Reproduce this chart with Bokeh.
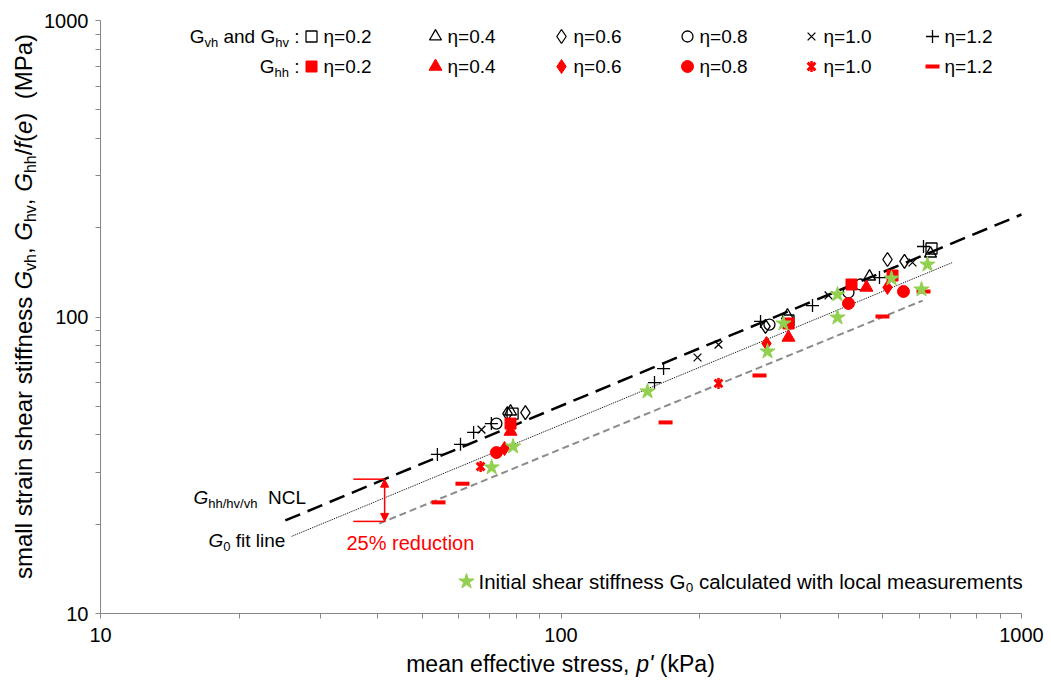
import math
from bokeh.plotting import figure
from bokeh.models import Range1d, FixedTicker, PrintfTickFormatter, Label, Arrow, NormalHead
from bokeh.embed import file_html
from bokeh.resources import INLINE

# ---------------- data ----------------
x_ticks = [10, 100, 1000]
y_ticks = [10, 100, 1000]
minor_ticks = [20, 30, 40, 50, 60, 70, 80, 90, 200, 300, 400, 500, 600, 700, 800, 900]
eta_labels = ["η=0.2", "η=0.4", "η=0.6", "η=0.8", "η=1.0", "η=1.2"]

# G_vh and G_hv (open black markers)
vh02_p = [78.5, 311.9, 637.7]
vh02_G = [47.2, 97.3, 170.2]
vh04_p = [77.7, 310.3, 467.7, 634.5]
vh04_G = [48.0, 101.2, 136.9, 163.7]
vh06_p = [76.5, 83.7, 278.0, 511.7, 557.0]
vh06_G = [47.2, 47.6, 92.9, 156.3, 153.9]
vh08_p = [72.4, 283.6, 421.0, 447.1]
vh08_G = [43.7, 94.3, 121.0, 128.7]
vh10_p = [67.2, 197.9, 219.8, 381.0, 579.8]
vh10_G = [41.7, 73.0, 80.7, 118.2, 152.7]
vh12_p = [53.9, 60.5, 64.6, 70.6, 159.6, 167.0, 271.2, 351.7, 491.6, 612.6]
vh12_G = [34.4, 37.2, 40.8, 43.7, 60.1, 67.0, 96.6, 109.3, 135.8, 172.9]

# G_hh (red markers)
hh02_p = [77.7, 311.9, 427.4, 524.7]
hh02_G = [43.7, 95.1, 128.7, 138.0]
hh04_p = [77.7, 311.9, 460.7]
hh04_G = [41.1, 85.3, 125.8]
hh06_p = [75.4, 279.4, 511.7]
hh06_G = [36.0, 81.4, 125.8]
hh08_p = [72.4, 421.0, 554.3]
hh08_G = [34.9, 111.1, 121.9]
hh10_p = [66.9, 219.8]
hh10_G = [31.3, 59.7]
hh12_p = [54.2, 61.1, 168.7, 269.8, 499.0, 612.6]
hh12_G = [23.7, 27.4, 44.1, 63.5, 100.4, 121.9]

# initial shear stiffness G0 (local measurements)
g0_p = [70.7, 78.7, 154.1, 280.8, 304.2, 398.5, 398.5, 522.1, 606.5, 625.0]
g0_G = [31.1, 36.6, 56.1, 76.5, 95.1, 119.1, 99.6, 134.8, 123.8, 150.3]

# lines
ncl_p = [25.2, 1000.0]
ncl_G = [20.6, 221.7]
fit_p = [26.0, 708.0]
fit_G = [18.2, 152.7]
red_p = [40.3, 610.0]
red_G = [20.1, 113.6]
arrow_p = 41.4
bracket_p = [35.4, 41.4]

# ---------------- layout ----------------
W, H = 1045, 678
FL, FR, FT, FB = 100, 1021, 20, 613   # where p=10..1000 / G=1000..10 sit on the canvas
FONT = "Liberation Sans"

CW = {' ': 278, '%': 889, "'": 191, '(': 333, ')': 333, ',': 278, '.': 278, '/': 278,
      ':': 278, '=': 584, 'C': 722, 'G': 778, 'I': 278, 'L': 556, 'M': 833, 'N': 722,
      'P': 667, 'a': 556, 'c': 500, 'd': 556, 'e': 556, 'f': 278, 'h': 556, 'i': 222,
      'k': 500, 'l': 222, 'm': 833, 'n': 556, 'o': 556, 'p': 556, 'r': 333, 's': 500,
      't': 278, 'u': 556, 'v': 500, 'w': 722, 'η': 556}


def tw(s, size):
    return sum(CW.get(ch, 556) for ch in s) / 1000.0 * size


def to_data(cx, cy):
    return (10 ** (1 + 2.0 * (cx - FL) / (FR - FL)),
            10 ** (3 - 2.0 * (cy - FT) / (FB - FT)))


def loglin(px, py, x):
    lx = [math.log10(v) for v in px]
    ly = [math.log10(v) for v in py]
    t = (math.log10(x) - lx[0]) / (lx[1] - lx[0])
    return 10 ** (ly[0] + t * (ly[1] - ly[0]))


x_lo, _ = to_data(0, 0)
x_hi, _ = to_data(W, 0)
_, y_hi = to_data(0, 0)
_, y_lo = to_data(0, H)

p = figure(width=W, height=H, x_axis_type="log", y_axis_type="log",
           x_range=Range1d(x_lo, x_hi), y_range=Range1d(y_lo, y_hi),
           output_backend="svg", toolbar_location=None,
           min_border_left=0, min_border_right=0,
           min_border_top=0, min_border_bottom=0)
p.outline_line_color = None
p.grid.visible = False
p.background_fill_color = "white"
p.border_fill_color = "white"

for ax, ticks in ((p.xaxis[0], x_ticks), (p.yaxis[0], y_ticks)):
    ax.ticker = FixedTicker(ticks=ticks, minor_ticks=minor_ticks)
    ax.formatter = PrintfTickFormatter(format="%d")
    ax.fixed_location = 10
    ax.bounds = (10, 1000)
    ax.axis_line_color = "#868686"
    ax.major_tick_line_color = "#868686"
    ax.minor_tick_line_color = "#868686"
    ax.major_tick_out = 5
    ax.major_tick_in = 0
    ax.minor_tick_out = 5
    ax.minor_tick_in = 0
    ax.major_label_text_font = FONT
    ax.major_label_text_font_size = "20px"
    ax.major_label_text_color = "black"
p.xaxis.major_label_standoff = 9
p.yaxis.major_label_standoff = 7

# lines
p.line(ncl_p, ncl_G, line_color="black", line_width=2.5, line_dash="16 8")
p.line(fit_p, fit_G, line_color="black", line_width=1, line_dash="1 1")
p.line(red_p, red_G, line_color="#8c8c8c", line_width=2, line_dash="7 4")

# reduction arrow
g_hi = loglin(ncl_p, ncl_G, arrow_p)
g_lo = loglin(red_p, red_G, arrow_p)
p.line(bracket_p, [g_hi, g_hi], line_color="red", line_width=1.5)
p.line(bracket_p, [g_lo, g_lo], line_color="red", line_width=1.5)
p.add_layout(Arrow(start=NormalHead(size=8, fill_color="red", line_color="red"),
                   end=NormalHead(size=8, fill_color="red", line_color="red"),
                   x_start=arrow_p, y_start=g_lo, x_end=arrow_p, y_end=g_hi,
                   line_color="red", line_width=1.5))

BLK = dict(line_color="black", fill_color=None, line_width=1.3)
RED = dict(line_color="red", fill_color="red")
black_specs = [("square", 11, vh02_p, vh02_G), ("triangle", 12, vh04_p, vh04_G),
               ("diamond", 14, vh06_p, vh06_G), ("circle", 11, vh08_p, vh08_G),
               ("x", 11, vh10_p, vh10_G), ("cross", 13, vh12_p, vh12_G)]
for m, s, xs, ys in black_specs:
    p.scatter(xs, ys, marker=m, size=s, **BLK)


def red_marker(xs, ys, kind):
    if kind == 0:
        p.scatter(xs, ys, marker="square", size=11, **RED)
    elif kind == 1:
        p.scatter(xs, ys, marker="triangle", size=13, **RED)
    elif kind == 2:
        p.scatter(xs, ys, marker="diamond", size=14, **RED)
    elif kind == 3:
        p.scatter(xs, ys, marker="circle", size=12, **RED)
    elif kind == 4:
        p.scatter(xs, ys, marker="x", size=11, line_color="red", line_width=3)
        p.scatter(xs, ys, marker="dash", angle=math.pi / 2, size=11, line_color="red", line_width=2.5)
    else:
        p.scatter(xs, ys, marker="dash", size=14, line_color="red", line_width=4)


for k, (xs, ys) in enumerate([(hh02_p, hh02_G), (hh04_p, hh04_G), (hh06_p, hh06_G),
                              (hh08_p, hh08_G), (hh10_p, hh10_G), (hh12_p, hh12_G)]):
    red_marker(xs, ys, k)

p.scatter(g0_p, g0_G, marker="star", size=16, line_color="#92D050", fill_color="#92D050")


# ---------------- rich text helper (anchor = vertical middle of the main text) ----------------
def rich(pieces, x0, y0, color="black", angle=0.0, align="left"):
    total = sum(tw(t, sz) for t, sz, st, rise in pieces)
    if angle == 0:
        if align == "right":
            x0 -= total
        elif align == "center":
            x0 -= total / 2.0
    else:
        if align == "center":
            y0 += total / 2.0
    adv = 0.0
    for t, sz, st, rise in pieces:
        lead = tw(t[:len(t) - len(t.lstrip())], sz)
        txt = t.strip()
        if txt:
            a = adv + lead
            if angle == 0:
                xo, yo = x0 + a - FL, FB - y0 + rise
            else:
                xo, yo = x0 - FL - rise, FB - (y0 - a)
            p.add_layout(Label(x=10, y=10, x_offset=xo, y_offset=yo, text=txt,
                               text_font=FONT, text_font_size=f"{sz}px",
                               text_font_style=st, text_color=color,
                               text_baseline="middle", text_align="left",
                               angle=angle))
        adv += tw(t, sz)


# legend rows
LF = 19
SUB = 13
row_y = [36, 66]
mark_x = [311, 435, 561, 687, 811, 932]
rich([("G", LF, "normal", 0), ("vh", SUB, "normal", -6), (" and ", LF, "normal", 0),
      ("G", LF, "normal", 0), ("hv", SUB, "normal", -6), (" :", LF, "normal", 0)],
     299, row_y[0], align="right")
rich([("G", LF, "normal", 0), ("hh", SUB, "normal", -6), (" :", LF, "normal", 0)],
     299, row_y[1], align="right")

leg_black = ["square", "triangle", "diamond", "circle", "x", "cross"]
leg_bsize = [11, 12, 14, 11, 11, 13]
for i, lab in enumerate(eta_labels):
    for r in range(2):
        rich([(lab, LF, "normal", 0)], mark_x[i] + 12, row_y[r])
    lx, ly = to_data(mark_x[i], row_y[0])
    p.scatter([lx], [ly], marker=leg_black[i], size=leg_bsize[i], **BLK)
    lx, ly = to_data(mark_x[i], row_y[1])
    red_marker([lx], [ly], i)

# G0 legend
sx, sy = to_data(466, 581)
p.scatter([sx], [sy], marker="star", size=16, line_color="#92D050", fill_color="#92D050")
rich([("Initial shear stiffness G", 20.5, "normal", 0), ("0", 13.5, "normal", -6),
      (" calculated with local measurements", 20.5, "normal", 0)], 478, 581)

# line annotations
rich([("G", 19, "italic", 0), ("hh/hv/vh", 13, "normal", -6), ("  NCL", 19, "normal", 0)], 193, 497)
rich([("G", 19, "italic", 0), ("0", 13, "normal", -6), (" fit line", 19, "normal", 0)], 208, 540)
rich([("25% reduction", 20, "normal", 0)], 346, 542, color="red")

# axis titles
rich([("mean effective stress, ", 23, "normal", 0), ("p'", 23, "italic", 0),
      (" (kPa)", 23, "normal", 0)], 560, 663, align="center")
YF, YS = 24, 16
rich([("small strain shear stiffness ", YF, "normal", 0),
      ("G", YF, "italic", 0), ("vh", YS, "normal", -7), (", ", YF, "normal", 0),
      ("G", YF, "italic", 0), ("hv", YS, "normal", -7), (", ", YF, "normal", 0),
      ("G", YF, "italic", 0), ("hh", YS, "normal", -7), ("/", YF, "normal", 0),
      ("f", YF, "italic", 0), ("(", YF, "normal", 0), ("e", YF, "italic", 0),
      (")", YF, "normal", 0), ("  (MPa)", YF, "normal", 0)],
     23, 306, angle=math.pi / 2, align="center")

open("out.html", "w").write(file_html(p, INLINE))
